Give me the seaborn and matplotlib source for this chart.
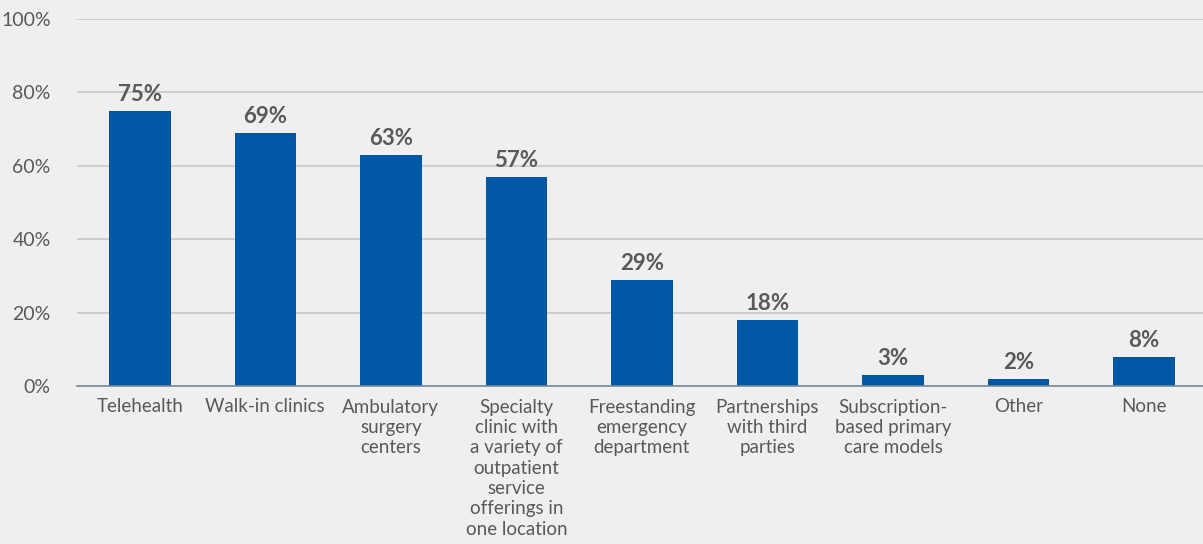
import matplotlib
matplotlib.use("Agg")
import matplotlib.pyplot as plt
import seaborn as sns
import pandas as pd

categories = [
    "Telehealth",
    "Walk-in clinics",
    "Ambulatory\nsurgery\ncenters",
    "Specialty\nclinic with\na variety of\noutpatient\nservice\nofferings in\none location",
    "Freestanding\nemergency\ndepartment",
    "Partnerships\nwith third\nparties",
    "Subscription-\nbased primary\ncare models",
    "Other",
    "None",
]
values = [75, 69, 63, 57, 29, 18, 3, 2, 8]
yticks = [0, 20, 40, 60, 80, 100]

sns.set_theme(style="white")
plt.rcParams['font.family'] = ['Lato', 'DejaVu Sans']

bg = "#efefef"
bar_color = "#0057a3"
text_color = "#595959"

df = pd.DataFrame({"category": categories, "value": values})

fig = plt.figure(figsize=(12.03, 5.44), dpi=100, facecolor=bg)
ax = fig.add_axes([77 / 1203, 1 - 386 / 544, 1 - 77 / 1203, (386 - 19) / 544])
ax.set_facecolor(bg)

sns.barplot(data=df, x="category", y="value", color=bar_color, width=0.49,
            saturation=1, ax=ax, zorder=3, edgecolor="none", linewidth=0)

ax.set_ylim(0, 100)
ax.set_xlim(-0.5, 8.47)
ax.set_yticks(yticks)
ax.set_yticklabels([f"{t}%" for t in yticks], fontsize=14, color=text_color)
ax.tick_params(axis="y", length=0, pad=19)
ax.tick_params(axis="x", length=0, pad=9)
ax.set_xticks(range(len(categories)))
ax.set_xticklabels(categories, fontsize=13.5, color=text_color, linespacing=1.24)
ax.set_xlabel("")
ax.set_ylabel("")
ax.grid(axis="y", color="#c8c8c8", linewidth=1.2, zorder=0)
for s in ["top", "right", "left"]:
    ax.spines[s].set_visible(False)
ax.spines["bottom"].set_color("#7a8a99")
ax.spines["bottom"].set_linewidth(1.2)
ax.spines["bottom"].set_zorder(4)

for i, v in enumerate(values):
    ax.annotate(f"{v}%", (i, v), xytext=(0, 4), textcoords="offset points",
                ha="center", va="bottom", fontsize=16, fontweight="bold",
                color=text_color)

fig.savefig("out.png", dpi=100, facecolor=bg)
